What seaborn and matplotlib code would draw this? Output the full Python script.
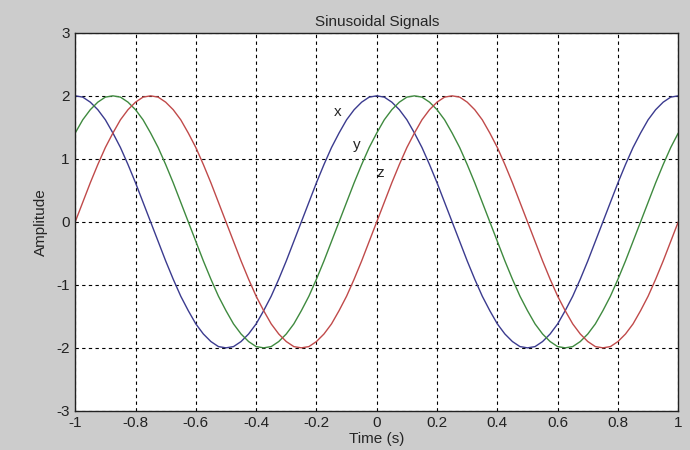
import numpy as np
import pandas as pd
import seaborn as sns
import matplotlib.pyplot as plt

time_s = [round(-1 + 0.025 * i, 3) for i in range(81)]
one_period_x = [2, 1.98, 1.90, 1.78, 1.62, 1.41, 1.18, 0.91, 0.62, 0.31,
                0, -0.31, -0.62, -0.91, -1.18, -1.41, -1.62, -1.78, -1.90, -1.98,
                -2, -1.98, -1.90, -1.78, -1.62, -1.41, -1.18, -0.91, -0.62, -0.31,
                0, 0.31, 0.62, 0.91, 1.18, 1.41, 1.62, 1.78, 1.90, 1.98]
one_period_y = [1.41, 1.62, 1.78, 1.90, 1.98, 2, 1.98, 1.90, 1.78, 1.62,
                1.41, 1.18, 0.91, 0.62, 0.31, 0, -0.31, -0.62, -0.91, -1.18,
                -1.41, -1.62, -1.78, -1.90, -1.98, -2, -1.98, -1.90, -1.78, -1.62,
                -1.41, -1.18, -0.91, -0.62, -0.31, 0, 0.31, 0.62, 0.91, 1.18]
one_period_z = [0, 0.31, 0.62, 0.91, 1.18, 1.41, 1.62, 1.78, 1.90, 1.98,
                2, 1.98, 1.90, 1.78, 1.62, 1.41, 1.18, 0.91, 0.62, 0.31,
                0, -0.31, -0.62, -0.91, -1.18, -1.41, -1.62, -1.78, -1.90, -1.98,
                -2, -1.98, -1.90, -1.78, -1.62, -1.41, -1.18, -0.91, -0.62, -0.31]
sig_x = one_period_x * 2 + [2]
sig_y = one_period_y * 2 + [1.41]
sig_z = one_period_z * 2 + [0]

x_ticks = [-1, -0.8, -0.6, -0.4, -0.2, 0, 0.2, 0.4, 0.6, 0.8, 1]
x_tick_labels = ['-1', '-0.8', '-0.6', '-0.4', '-0.2', '0', '0.2', '0.4', '0.6', '0.8', '1']
y_ticks = [-3, -2, -1, 0, 1, 2, 3]
y_tick_labels = ['-3', '-2', '-1', '0', '1', '2', '3']

sns.set_style('white')
plt.rcParams['font.family'] = ['Liberation Sans', 'DejaVu Sans']
plt.rcParams['axes.unicode_minus'] = False

fig = plt.figure(figsize=(6.9, 4.5), dpi=100)
fig.patch.set_facecolor('#cccccc')
ax = fig.add_axes([0.109, 0.087, 0.874, 0.840])
ax.set_facecolor('white')

sns.lineplot(x=time_s, y=sig_x, color='#3b3b8f', lw=1, ax=ax, sort=False)
sns.lineplot(x=time_s, y=sig_y, color='#3f8a3f', lw=1, ax=ax, sort=False)
sns.lineplot(x=time_s, y=sig_z, color='#c04a4a', lw=1, ax=ax, sort=False)

ax.text(-0.13, 1.75, 'x', fontsize=11, ha='center', va='center')
ax.text(-0.065, 1.22, 'y', fontsize=11, ha='center', va='center')
ax.text(0.01, 0.78, 'z', fontsize=11, ha='center', va='center')

ax.set_xlim(-1, 1)
ax.set_ylim(-3, 3)
ax.set_xticks(x_ticks)
ax.set_xticklabels(x_tick_labels)
ax.set_yticks(y_ticks)
ax.set_yticklabels(y_tick_labels)
ax.grid(True, color='black', linestyle=(0, (3, 3)), linewidth=0.8)
ax.tick_params(direction='in', length=4, labelsize=11, colors='#222222', pad=4)
for s in ax.spines.values():
    s.set_color('#222222')
    s.set_linewidth(1)

ax.set_title('Sinusoidal Signals', fontsize=11, pad=5)
ax.set_xlabel('Time (s)', fontsize=11, labelpad=1)
ax.set_ylabel('Amplitude', fontsize=11, labelpad=6)

plt.savefig('out.png', dpi=100, facecolor=fig.get_facecolor())
